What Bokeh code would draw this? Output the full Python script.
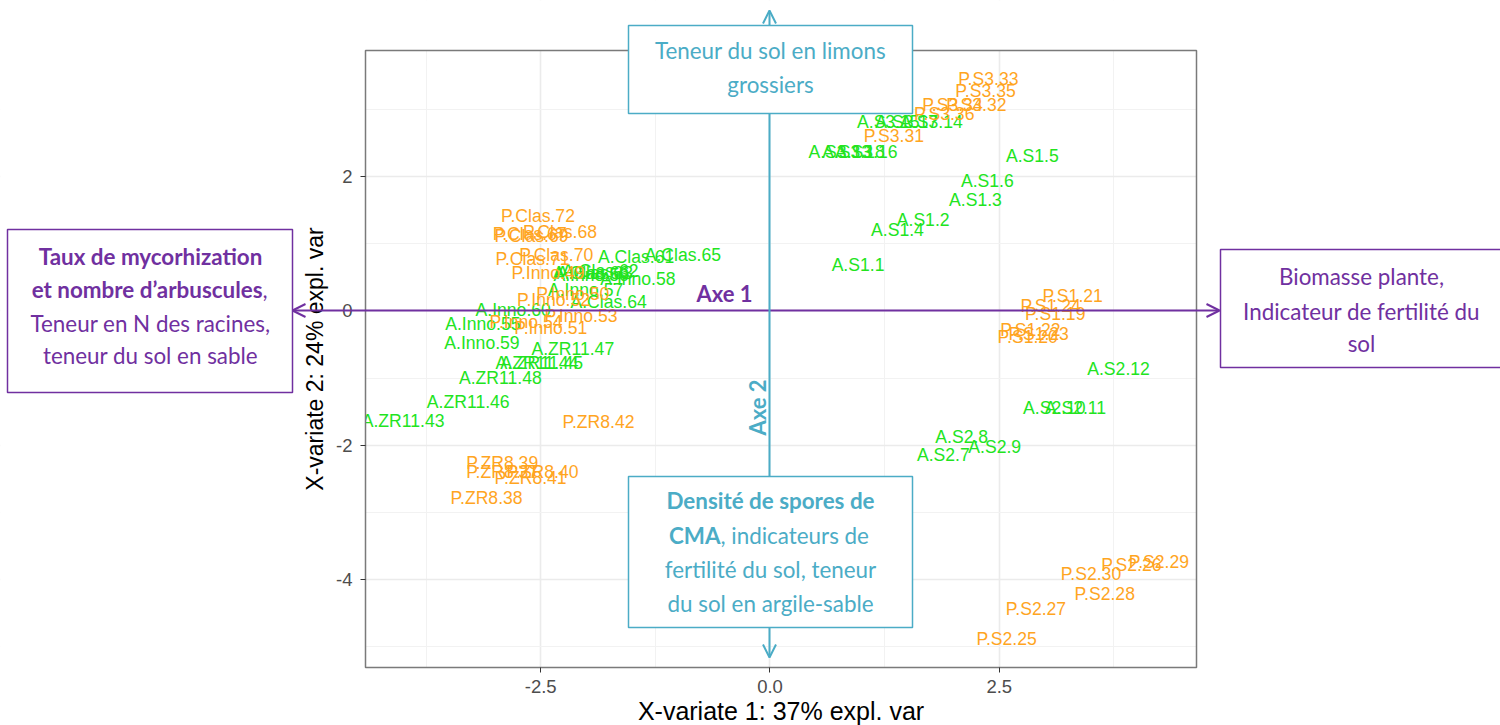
import math
from bokeh.plotting import figure
from bokeh.models import (Range1d, FixedTicker, PrintfTickFormatter, Label,
                          BoxAnnotation, Arrow, OpenHead, ColumnDataSource)
from bokeh.core.properties import value
from bokeh.embed import file_html
from bokeh.resources import INLINE

# ---------------- data ----------------
a_names = ["A.S1.1", "A.S1.2", "A.S1.3", "A.S1.4", "A.S1.5", "A.S1.6",
           "A.S2.7", "A.S2.8", "A.S2.9", "A.S2.10", "A.S2.11", "A.S2.12",
           "A.S3.13", "A.S3.14", "A.S3.15", "A.S3.16", "A.S3.17", "A.S3.18",
           "A.ZR11.43", "A.ZR11.44", "A.ZR11.45", "A.ZR11.46", "A.ZR11.47", "A.ZR11.48",
           "A.Inno.55", "A.Inno.56", "A.Inno.57", "A.Inno.58", "A.Inno.59", "A.Inno.60",
           "A.Clas.61", "A.Clas.62", "A.Clas.63", "A.Clas.64", "A.Clas.65", "A.Clas.66"]
a_x1 = [0.96, 1.67, 2.24, 1.39, 2.86, 2.37,
        1.89, 2.09, 2.45, 3.10, 3.33, 3.80,
        0.76, 1.76, 1.29, 1.05, 1.49, 0.91,
        -4.00, -2.54, -2.49, -3.29, -2.15, -2.94,
        -3.13, -1.95, -2.01, -1.44, -3.14, -2.80,
        -1.46, -1.85, -1.91, -1.76, -0.95, -1.95]
a_x2 = [0.68, 1.35, 1.66, 1.20, 2.31, 1.93,
        -2.15, -1.87, -2.03, -1.45, -1.45, -0.86,
        2.37, 2.81, 2.82, 2.37, 2.81, 2.37,
        -1.64, -0.78, -0.78, -1.35, -0.56, -1.00,
        -0.19, 0.54, 0.32, 0.48, -0.48, 0.02,
        0.81, 0.59, 0.57, 0.13, 0.83, 0.56]

p_names = ["P.S1.19", "P.S1.20", "P.S1.21", "P.S1.22", "P.S1.23", "P.S1.24",
           "P.S2.25", "P.S2.26", "P.S2.27", "P.S2.28", "P.S2.29", "P.S2.30",
           "P.S3.31", "P.S3.32", "P.S3.33", "P.S3.34", "P.S3.35", "P.S3.36",
           "P.ZR8.37", "P.ZR8.38", "P.ZR8.39", "P.ZR8.40", "P.ZR8.41", "P.ZR8.42",
           "P.Inno.49", "P.Inno.50", "P.Inno.51", "P.Inno.52", "P.Inno.53", "P.Inno.54",
           "P.Clas.67", "P.Clas.68", "P.Clas.69", "P.Clas.70", "P.Clas.71", "P.Clas.72"]
p_x1 = [3.11, 2.81, 3.30, 2.84, 2.93, 3.06,
        2.58, 3.94, 2.90, 3.65, 4.24, 3.50,
        1.35, 2.25, 2.38, 1.99, 2.35, 1.90,
        -2.92, -3.09, -2.92, -2.48, -2.61, -1.87,
        -2.42, -2.15, -2.39, -2.36, -2.06, -2.66,
        -2.62, -2.29, -2.60, -2.33, -2.59, -2.53]
p_x2 = [-0.04, -0.39, 0.22, -0.28, -0.34, 0.07,
        -4.89, -3.79, -4.44, -4.22, -3.74, -3.91,
        2.61, 3.07, 3.46, 3.07, 3.28, 2.94,
        -2.40, -2.78, -2.27, -2.40, -2.49, -1.66,
        0.57, 0.25, -0.25, 0.16, -0.07, -0.17,
        1.14, 1.18, 1.12, 0.84, 0.78, 1.42]

x_ticks = [-2.5, 0.0, 2.5]
x_minor = [-3.75, -1.25, 1.25, 3.75]
y_ticks = [-4, -2, 0, 2]
y_minor = [-5, -3, -1, 1, 3]
x_title = "X-variate 1: 37% expl. var"
y_title = "X-variate 2: 24% expl. var"

# ---------------- layout ----------------
XMIN, XMAX = -4.41, 4.65          # panel limits (data)
YMIN, YMAX = -5.31, 3.88
PL, PR, PT, PB = 365, 1196, 50, 667   # panel edges on the canvas (px)
W, H = 1500, 725

KX = (PR - PL) / (XMAX - XMIN)   # px per unit
KY = (PB - PT) / (YMAX - YMIN)
X_LEFT, X_RIGHT = XMIN - PL / KX, XMAX + (W - PR) / KX
Y_TOP, Y_BOT = YMAX + PT / KY, YMIN - (H - PB) / KY

GREEN = "#22E41E"
ORANGE = "#FFA51F"
TEAL = "#4BACC6"
PURPLE = "#7030A0"


def dx(sx):
    return X_LEFT + sx / KX


def dy(sy):
    return Y_TOP - sy / KY


p = figure(width=W, height=H,
           x_range=Range1d(X_LEFT, X_RIGHT), y_range=Range1d(Y_BOT, Y_TOP),
           output_backend="svg", toolbar_location=None,
           min_border=0, min_border_left=0, min_border_right=0,
           min_border_top=0, min_border_bottom=0)
p.background_fill_color = "white"
p.border_fill_color = "white"
p.outline_line_color = None

xt = FixedTicker(ticks=x_ticks, minor_ticks=x_minor)
yt = FixedTicker(ticks=y_ticks, minor_ticks=y_minor)
p.xaxis.ticker = xt
p.yaxis.ticker = yt
p.xgrid.ticker = xt
p.ygrid.ticker = yt
p.xaxis.formatter = PrintfTickFormatter(format="%.1f")
p.yaxis.formatter = PrintfTickFormatter(format="%d")
p.xaxis.fixed_location = YMIN
p.yaxis.fixed_location = XMIN
p.xaxis.bounds = (XMIN, XMAX)
p.yaxis.bounds = (YMIN, YMAX)
for g in (p.xgrid, p.ygrid):
    g.grid_line_color = "#EBEBEB"
    g.grid_line_width = 1.6
    g.minor_grid_line_color = "#F2F2F2"
    g.minor_grid_line_width = 1.0

for ax in (p.xaxis, p.yaxis):
    ax.axis_line_color = None
    ax.major_tick_line_color = "#333333"
    ax.major_tick_in = 0
    ax.major_tick_out = 5
    ax.minor_tick_line_color = None
    ax.major_label_text_font = "Liberation Sans"
    ax.major_label_text_font_size = "18.5px"
    ax.major_label_text_color = "#4D4D4D"
    ax.axis_label_text_font = "Liberation Sans"
    ax.axis_label_text_font_style = "normal"
    ax.axis_label_text_color = "#000000"

p.xaxis.axis_label = x_title
p.yaxis.axis_label = y_title
p.xaxis.axis_label_text_font_size = "25px"
p.yaxis.axis_label_text_font_size = "23px"
p.xaxis.major_label_standoff = 7
p.xaxis.axis_label_standoff = 1
p.yaxis.major_label_standoff = 8
p.yaxis.axis_label_standoff = 5

# white masks outside the panel (hide grid lines there)
for kw in (dict(bottom=YMAX), dict(top=YMIN), dict(left=XMAX)):
    p.add_layout(BoxAnnotation(fill_color="white", fill_alpha=1.0, line_color=None,
                               level="underlay", **kw))

src_a = ColumnDataSource(dict(x=a_x1, y=a_x2, name=a_names))
src_p = ColumnDataSource(dict(x=p_x1, y=p_x2, name=p_names))
for src, col in ((src_a, GREEN), (src_p, ORANGE)):
    p.text(x="x", y="y", text="name", source=src, text_color=col,
           text_font=value("Liberation Sans"), text_font_size="17.6px",
           text_align="center", text_baseline="middle")

# left mask drawn over the labels (clips them at the panel edge, like the panel)
p.add_layout(BoxAnnotation(right=XMIN, fill_color="white", fill_alpha=1.0,
                           line_color=None, level="glyph"))
# panel border
p.add_layout(BoxAnnotation(left=XMIN, right=XMAX, top=YMAX, bottom=YMIN,
                           fill_color=None, fill_alpha=0.0, line_color="#7A7A7A",
                           line_alpha=1.0, line_width=1.5, level="glyph"))

# ---------------- interpretation arrows and boxes ----------------
p.add_layout(Arrow(start=OpenHead(size=13, line_color=PURPLE, line_width=2),
                   end=OpenHead(size=13, line_color=PURPLE, line_width=2),
                   x_start=dx(292), y_start=dy(310), x_end=dx(1219), y_end=dy(310),
                   line_color=PURPLE, line_width=2))
p.add_layout(Arrow(start=OpenHead(size=13, line_color=TEAL, line_width=2),
                   end=OpenHead(size=13, line_color=TEAL, line_width=2),
                   x_start=dx(769), y_start=dy(10), x_end=dx(769), y_end=dy(657),
                   line_color=TEAL, line_width=2))


def box(l, r, t, b, col):
    p.add_layout(BoxAnnotation(left=dx(l), right=dx(r), top=dy(t), bottom=dy(b),
                               fill_color="white", fill_alpha=1.0,
                               line_color=col, line_width=1.5, line_alpha=1.0))


box(628, 912, 25, 113, TEAL)
box(628, 912, 476, 627, TEAL)
box(7, 292, 229, 392, PURPLE)
box(1220, 1510, 249, 367, PURPLE)


def lab(text, sx, sy, col, bold=False, align="center", size="22.4px", angle=0.0):
    p.add_layout(Label(x=dx(sx), y=dy(sy), text=text, text_color=col,
                       text_font="Lato", text_font_size=size,
                       text_font_style="bold" if bold else "normal",
                       text_align=align, text_baseline="middle", angle=angle))


# top box
lab("Teneur du sol en limons", 770, 50, TEAL)
lab("grossiers", 770, 84, TEAL)
# bottom box
lab("Densité de spores de", 770, 500, TEAL, bold=True)
lab("CMA", 720, 535, TEAL, bold=True, align="right")
lab(", indicateurs de", 720, 535, TEAL, align="left")
lab("fertilité du sol, teneur", 770, 569, TEAL)
lab("du sol en argile-sable", 770, 603, TEAL)
# left box
lab("Taux de mycorhization", 150, 256, PURPLE, bold=True)
lab("et nombre d\u2019arbuscules", 262, 289, PURPLE, bold=True, align="right")
lab(",", 262, 289, PURPLE, align="left")
lab("Teneur en N des racines,", 150, 323, PURPLE)
lab("teneur du sol en sable", 150, 355, PURPLE)
# right box
lab("Biomasse plante,", 1361, 276, PURPLE)
lab("Indicateur de fertilité du", 1361, 311, PURPLE)
lab("sol", 1361, 343, PURPLE)
# axis names
lab("Axe 1", 724, 293, PURPLE, bold=True, size="22px")
lab("Axe 2", 757, 407, TEAL, bold=True, size="22px", angle=math.pi / 2)

open("out.html", "w").write(file_html(p, INLINE))
